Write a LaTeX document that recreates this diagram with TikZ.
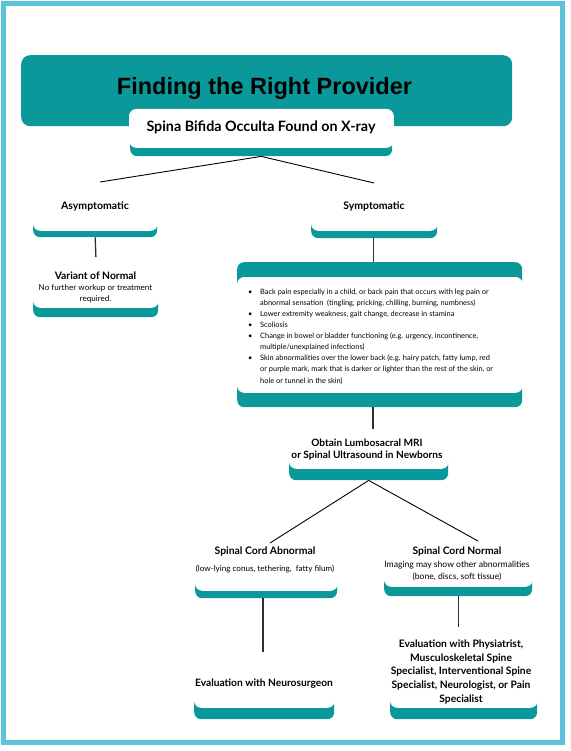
\documentclass[tikz,border=0pt]{standalone}
\usepackage{fontspec}
\setmainfont{Lato}
\newfontfamily\titlefont{Liberation Sans}
\definecolor{teal1}{HTML}{0A989B}
\definecolor{frame1}{HTML}{5BC4DA}
\definecolor{line1}{HTML}{2E2A40}
\begin{document}
\begin{tikzpicture}[x=1pt,y=-1pt,
  tealbox/.style={fill=teal1, draw=none, rounded corners=7pt, inner sep=0pt, anchor=north west},
  whitebox/.style={fill=white, draw=white, line width=0.8pt, rounded corners=7pt, inner sep=0pt, anchor=north west},
  label/.style={inner sep=0pt, align=center, text=black},
  diag/.style={draw=black, line width=0.9pt},
  vert/.style={draw=line1, line width=1.3pt},
  hd/.style={font=\bfseries\fontsize{10.5}{12}\selectfont},
]
\useasboundingbox (0,0) rectangle (570,751);
\fill[white] (0,0) rectangle (570,751);
\draw[frame1, line width=4.7pt] (3.3,3.3) rectangle (562.5,742.8);

% title
\node[tealbox, rounded corners=9pt, minimum width=491pt, minimum height=71pt] (titleT) at (21,55) {};
\node[label, anchor=base, font=\titlefont\bfseries\fontsize{23.5}{28}\selectfont] (titleL) at (264.5,95) {Finding the Right Provider};

% subtitle
\node[tealbox, minimum width=262pt, minimum height=31pt] (subT) at (130,125) {};
\node[whitebox, minimum width=264pt, minimum height=38pt] (subW) at (129,109) {};
\node[label, anchor=base, font=\bfseries\fontsize{14.3}{16}\selectfont] (subL) at (261,131.7) {Spina Bifida Occulta Found on X-ray};

% asymptomatic
\node[tealbox, minimum width=124pt, minimum height=37pt] (asymT) at (33,200) {};
\node[whitebox, minimum width=124pt, minimum height=48pt] (asymW) at (33,182) {};
\node[label, anchor=base, hd] (asymL) at (95,209) {Asymptomatic};

% variant
\node[tealbox, minimum width=125pt, minimum height=37pt] (varT) at (33,280) {};
\node[whitebox, minimum width=125pt, minimum height=50pt] (varW) at (33,257) {};
\node[label, font=\fontsize{8.1}{11.3}\selectfont] (varL) at (95.5,287.5) {{\bfseries\fontsize{10.3}{11.3}\selectfont Variant of Normal}\\No further workup or treatment\\required.};

% symptomatic
\node[tealbox, minimum width=126pt, minimum height=38pt] (symT) at (311,200) {};
\node[whitebox, minimum width=126pt, minimum height=47pt] (symW) at (311,183) {};
\node[label, anchor=base, hd] (symL) at (374,209) {Symptomatic};

% bullets
\node[tealbox, minimum width=285pt, minimum height=145pt] (bulT) at (237,262) {};
\node[whitebox, minimum width=285pt, minimum height=115pt] (bulW) at (237,277) {};
\node[inner sep=0pt, anchor=west, align=left, font=\fontsize{7.4}{11.1}\selectfont] (bulL) at (248,336.5) {%
\makebox[12pt][l]{\textbullet}Back pain especially in a child, or back pain that occurs with leg pain or\\
\hspace*{12pt}abnormal sensation\ \ (tingling, pricking, chilling, burning, numbness)\\
\makebox[12pt][l]{\textbullet}Lower extremity weakness, gait change, decrease in stamina\\
\makebox[12pt][l]{\textbullet}Scoliosis\\
\makebox[12pt][l]{\textbullet}Change in bowel or bladder functioning (e.g. urgency, incontinence,\\
\hspace*{12pt}multiple/unexplained infections)\\
\makebox[12pt][l]{\textbullet}Skin abnormalities over the lower back (e.g. hairy patch, fatty lump, red\\
\hspace*{12pt}or purple mark, mark that is darker or lighter than the rest of the skin, or\\
\hspace*{12pt}hole or tunnel in the skin)};

% MRI
\node[tealbox, minimum width=159pt, minimum height=35pt] (mriT) at (289,445) {};
\node[whitebox, minimum width=159pt, minimum height=39pt] (mriW) at (289,429) {};
\node[label, font=\bfseries\fontsize{10.1}{12.7}\selectfont] (mriL) at (367,449.5) {Obtain Lumbosacral MRI\\or Spinal Ultrasound in Newborns};

% spinal cord abnormal
\node[tealbox, minimum width=142pt, minimum height=33pt] (scaT) at (195,565) {};
\node[whitebox, minimum width=142pt, minimum height=47pt] (scaW) at (195,543) {};
\node[label, font=\fontsize{8.1}{11}\selectfont] (scaL) at (265,560.3) {{\bfseries\fontsize{10.4}{11}\selectfont Spinal Cord Abnormal}\\[6pt](low-lying conus, tethering,\ \ fatty filum)};

% spinal cord normal
\node[tealbox, minimum width=148pt, minimum height=36pt] (scnT) at (384,560) {};
\node[whitebox, minimum width=148pt, minimum height=45pt] (scnW) at (384,541) {};
\node[label, font=\fontsize{8.6}{11.7}\selectfont] (scnL) at (457,563.8) {{\bfseries\fontsize{10.3}{11.7}\selectfont Spinal Cord Normal}\\[1.5pt]Imaging may show other abnormalities\\(bone, discs, soft tissue)};

% evaluation neurosurgeon
\node[tealbox, minimum width=140pt, minimum height=39pt] (evnT) at (194,680) {};
\node[whitebox, minimum width=140pt, minimum height=55pt] (evnW) at (194,652) {};
\node[label, anchor=base, font=\bfseries\fontsize{10.2}{12}\selectfont] (evnL) at (264,686.5) {Evaluation with Neurosurgeon};

% evaluation others
\node[tealbox, minimum width=147pt, minimum height=59pt] (evpT) at (390,660) {};
\node[whitebox, minimum width=147pt, minimum height=80pt] (evpW) at (390,627) {};
\node[label, font=\bfseries\fontsize{10.3}{13.7}\selectfont] (evpL) at (461,672) {Evaluation with Physiatrist,\\Musculoskeletal Spine\\Specialist, Interventional Spine\\Specialist, Neurologist, or Pain\\Specialist};

% connectors
\coordinate (asymTop) at (100,182);
\coordinate (symTop) at (374,183);
\coordinate (scaTop) at (270,543);
\coordinate (scnTop) at (478,541);
\draw[diag] (subT.south) -- (asymTop);
\draw[diag] (subT.south) -- (symTop);
\draw[vert] (asymT.south) -- (varW.north);
\draw[vert] ([xshift=-1pt]symT.south) -- ([xshift=-1pt]symT.south |- bulT.north);
\coordinate (v2) at (373,0);
\draw[vert] (bulT.south -| v2) -- (mriW.north -| v2);
\draw[diag] (mriT.south) -- (scaTop);
\draw[diag] (mriT.south) -- (scnTop);
\coordinate (v3) at (263,0);
\draw[vert] (scaT.south -| v3) -- (evnW.north -| v3);
\coordinate (v4) at (458.3,0);
\draw[vert] (scnT.south -| v4) -- (evpW.north -| v4);
\end{tikzpicture}
\end{document}
